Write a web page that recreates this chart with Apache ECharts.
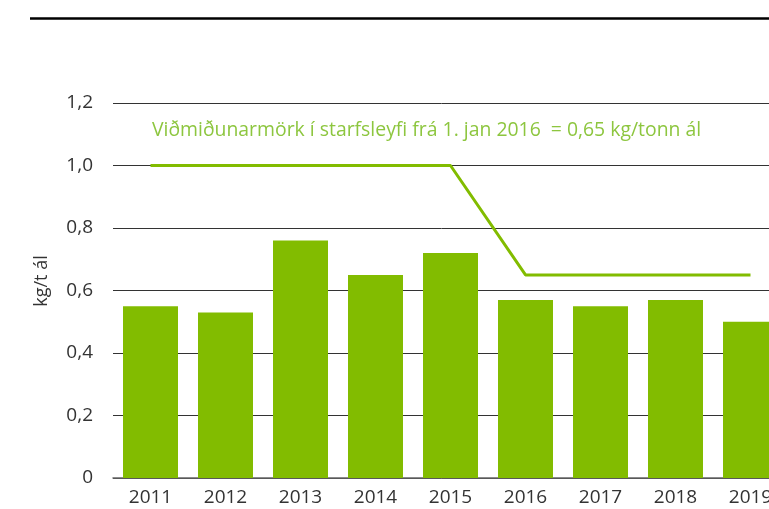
<!DOCTYPE html>
<html>
<head>
<meta charset="utf-8">
<script src="https://cdn.jsdelivr.net/npm/echarts@6/dist/echarts.min.js"></script>
<style>
  html, body { margin: 0; padding: 0; background: #fff; }
  #chart { width: 769px; height: 509px; }
</style>
</head>
<body>
<div id="chart"></div>
<script>
// gögn
var years = ['2011', '2012', '2013', '2014', '2015', '2016', '2017', '2018', '2019'];
var losun = [0.55, 0.53, 0.76, 0.65, 0.72, 0.57, 0.55, 0.57, 0.50];
var vidmid = [1.0, 1.0, 1.0, 1.0, 1.0, 0.65, 0.65, 0.65, 0.65];
var yTicks = [0, 0.2, 0.4, 0.6, 0.8, 1.0, 1.2];
var vidmidText = 'Viðmiðunarmörk í starfsleyfi frá 1. jan 2016  = 0,65 kg/tonn ál';

var chart = echarts.init(document.getElementById('chart'));
var font = '"Open Sans", sans-serif';

var option = {
    animation: false,
    textStyle: { fontFamily: font },
    grid: {
        left: 113,
        right: -19,
        top: 103,
        bottom: 31,
        outerBoundsMode: 'none',
        containLabel: false
    },
    graphic: [
        {   // svört lína efst
            type: 'line',
            shape: { x1: 30, y1: 18.5, x2: 769, y2: 18.5 },
            style: { stroke: '#000', lineWidth: 2.5 }
        },
        {
            type: 'text',
            x: 152,
            y: 130,
            style: {
                text: vidmidText,
                fill: '#8dc63f',
                font: '19.4px ' + font,
                verticalAlign: 'middle'
            }
        },
        {
            type: 'text',
            x: 42,
            y: 281,
            rotation: Math.PI / 2,
            style: {
                text: 'kg/t ál',
                fill: '#333',
                font: '18px ' + font,
                align: 'center',
                verticalAlign: 'middle'
            }
        }
    ],
    xAxis: {
        type: 'category',
        data: years,
        axisTick: { show: false },
        axisLine: { show: true, lineStyle: { color: '#666', width: 1.5 } },
        axisLabel: { color: '#333', fontSize: 19, margin: 10 }
    },
    yAxis: {
        type: 'value',
        min: 0,
        max: 1.2,
        interval: 0.2,
        axisLine: { show: false },
        axisTick: { show: false },
        splitLine: { lineStyle: { color: '#333', width: 1 } },
        axisLabel: {
            color: '#333',
            fontSize: 19,
            margin: 20,
            formatter: function (v) {
                var t = yTicks.find(function (k) { return Math.abs(k - v) < 1e-6; });
                if (t === 0) return '0';
                return t.toFixed(1).replace('.', ',');
            }
        }
    },
    series: [
        {
            name: 'kg/t ál',
            type: 'bar',
            data: losun,
            barWidth: 55,
            itemStyle: { color: '#82bc00' }
        },
        {
            name: 'Viðmiðunarmörk',
            type: 'line',
            data: vidmid,
            symbol: 'none',
            lineStyle: { color: '#82bc00', width: 3 }
        }
    ]
};
chart.setOption(option);
</script>
</body>
</html>
